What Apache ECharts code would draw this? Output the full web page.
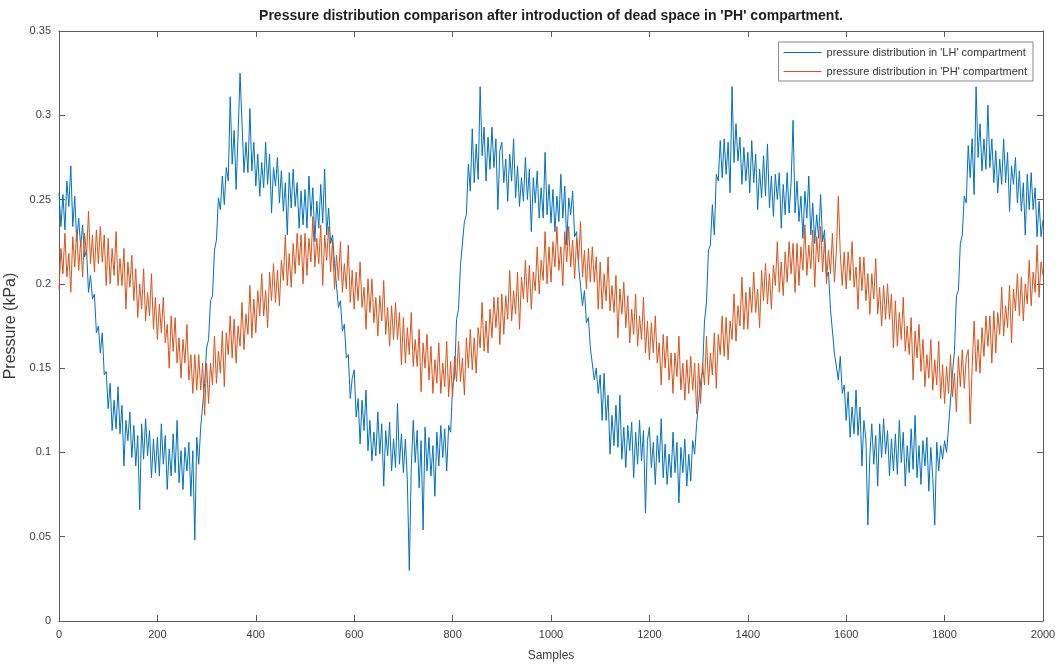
<!DOCTYPE html>
<html>
<head>
<meta charset="utf-8">
<script src="https://cdn.jsdelivr.net/npm/echarts@6/dist/echarts.min.js"></script>
<style>
  html, body { margin: 0; padding: 0; background: #ffffff; }
  #chart { width: 1062px; height: 671px; }
</style>
</head>
<body>
<div id="chart"></div>
<script>
// Pressure readings every 4 samples (kPa), samples 0..2000
const SAMPLE_STEP = 4;

const lhPressure = [
  0.254,0.234,0.253,0.232,0.261,0.246,0.27,0.234,0.252,0.225,0.239,0.222,0.235,0.216,0.22,0.195,0.205,0.191,0.194,0.171,0.175,0.159,0.171,0.146,0.148,
  0.126,0.141,0.113,0.131,0.114,0.139,0.111,0.128,0.092,0.119,0.107,0.124,0.097,0.116,0.092,0.11,0.066,0.117,0.096,0.12,0.098,0.113,0.085,0.108,0.088,
  0.109,0.086,0.117,0.093,0.11,0.078,0.102,0.086,0.111,0.088,0.119,0.082,0.101,0.078,0.103,0.089,0.106,0.074,0.101,0.048,0.109,0.093,0.115,0.116,0.141,
  0.162,0.167,0.19,0.193,0.22,0.226,0.251,0.244,0.264,0.247,0.269,0.261,0.311,0.271,0.291,0.256,0.289,0.325,0.295,0.266,0.284,0.266,0.304,0.267,0.284,
  0.258,0.277,0.252,0.272,0.257,0.284,0.259,0.277,0.242,0.269,0.258,0.275,0.248,0.267,0.243,0.26,0.229,0.266,0.245,0.268,0.246,0.26,0.233,0.255,0.235,
  0.256,0.233,0.264,0.24,0.257,0.225,0.249,0.233,0.259,0.236,0.268,0.229,0.245,0.224,0.229,0.212,0.211,0.186,0.19,0.172,0.176,0.156,0.158,0.132,0.144,
  0.149,0.121,0.132,0.105,0.131,0.113,0.137,0.101,0.119,0.095,0.112,0.098,0.124,0.099,0.117,0.08,0.113,0.098,0.118,0.089,0.108,0.091,0.129,0.093,0.111,
  0.088,0.108,0.084,0.03,0.091,0.119,0.094,0.113,0.079,0.107,0.054,0.115,0.089,0.109,0.086,0.104,0.074,0.112,0.092,0.116,0.097,0.114,0.089,0.116,0.112,
  0.139,0.145,0.179,0.185,0.211,0.21,0.237,0.241,0.271,0.255,0.292,0.26,0.283,0.262,0.317,0.276,0.293,0.261,0.287,0.268,0.293,0.269,0.286,0.244,0.279,
  0.284,0.26,0.274,0.249,0.277,0.261,0.286,0.251,0.27,0.246,0.263,0.249,0.275,0.25,0.268,0.231,0.263,0.248,0.267,0.239,0.257,0.239,0.278,0.241,0.259,
  0.236,0.256,0.231,0.252,0.237,0.265,0.239,0.258,0.223,0.251,0.241,0.255,0.228,0.231,0.211,0.212,0.187,0.196,0.177,0.18,0.162,0.163,0.143,0.15,0.135,
  0.146,0.119,0.147,0.119,0.134,0.099,0.122,0.104,0.128,0.103,0.134,0.096,0.115,0.091,0.116,0.101,0.118,0.085,0.112,0.093,0.119,0.095,0.113,0.064,0.107,
  0.115,0.091,0.106,0.081,0.11,0.094,0.12,0.085,0.105,0.081,0.099,0.085,0.112,0.088,0.106,0.07,0.103,0.088,0.108,0.08,0.099,0.083,0.107,0.099,0.117,
  0.116,0.142,0.148,0.178,0.189,0.22,0.223,0.247,0.229,0.265,0.261,0.285,0.263,0.286,0.265,0.284,0.254,0.317,0.272,0.295,0.273,0.287,0.259,0.281,0.261,
  0.278,0.254,0.285,0.26,0.277,0.244,0.268,0.251,0.276,0.252,0.283,0.245,0.264,0.24,0.265,0.25,0.266,0.233,0.259,0.241,0.266,0.242,0.26,0.297,0.242,
  0.261,0.237,0.252,0.227,0.255,0.239,0.264,0.229,0.248,0.224,0.241,0.227,0.253,0.225,0.232,0.204,0.207,0.185,0.184,0.159,0.16,0.143,0.157,0.135,0.14,
  0.119,0.136,0.109,0.127,0.111,0.137,0.11,0.127,0.092,0.119,0.108,0.057,0.098,0.117,0.093,0.11,0.08,0.117,0.097,0.12,0.099,0.113,0.086,0.108,0.089,
  0.111,0.087,0.119,0.094,0.112,0.08,0.104,0.088,0.114,0.09,0.122,0.085,0.104,0.081,0.107,0.092,0.109,0.077,0.103,0.085,0.057,0.106,0.089,0.104,0.096,
  0.107,0.1,0.115,0.116,0.147,0.16,0.193,0.196,0.224,0.229,0.252,0.248,0.282,0.263,0.286,0.253,0.317,0.275,0.295,0.267,0.286,0.268,0.306,0.269,0.286,
  0.26,0.279,0.254,0.274,0.259,0.286,0.26,0.278,0.243,0.27,0.259,0.275,0.248,0.267,0.243,0.26,0.229,0.265,0.244,0.266,0.244,0.257,0.228,0.249,0.228,
  0.238
];

const phPressure = [
  0.197,0.221,0.206,0.23,0.204,0.218,0.195,0.228,0.21,0.232,0.208,0.226,0.204,0.23,0.217,0.243,0.212,0.229,0.207,0.232,0.212,0.234,0.213,0.229,0.199,
  0.227,0.2,0.221,0.205,0.231,0.199,0.215,0.199,0.221,0.185,0.213,0.198,0.217,0.19,0.209,0.18,0.2,0.185,0.209,0.178,0.195,0.181,0.206,0.173,0.192,
  0.167,0.188,0.171,0.192,0.165,0.176,0.15,0.181,0.16,0.18,0.153,0.168,0.144,0.167,0.153,0.176,0.143,0.158,0.135,0.158,0.137,0.158,0.137,0.153,0.122,
  0.153,0.129,0.153,0.14,0.169,0.141,0.16,0.147,0.172,0.139,0.171,0.158,0.181,0.156,0.179,0.153,0.175,0.163,0.189,0.161,0.182,0.17,0.199,0.168,0.191,
  0.171,0.196,0.181,0.206,0.181,0.196,0.174,0.207,0.19,0.212,0.189,0.208,0.187,0.214,0.202,0.229,0.199,0.218,0.198,0.224,0.206,0.23,0.211,0.229,0.2,
  0.23,0.205,0.227,0.213,0.24,0.21,0.227,0.212,0.235,0.199,0.229,0.214,0.234,0.207,0.226,0.197,0.217,0.202,0.225,0.195,0.212,0.197,0.223,0.189,0.208,
  0.185,0.207,0.19,0.213,0.186,0.198,0.173,0.203,0.183,0.203,0.177,0.192,0.169,0.193,0.178,0.202,0.17,0.186,0.163,0.187,0.167,0.189,0.167,0.183,0.152,
  0.18,0.153,0.174,0.158,0.183,0.151,0.167,0.151,0.173,0.136,0.165,0.15,0.17,0.143,0.163,0.135,0.155,0.141,0.165,0.135,0.153,0.139,0.166,0.133,0.154,
  0.133,0.157,0.142,0.166,0.142,0.156,0.134,0.168,0.15,0.173,0.149,0.168,0.147,0.174,0.162,0.189,0.16,0.178,0.159,0.185,0.168,0.192,0.174,0.192,0.164,
  0.194,0.17,0.193,0.179,0.208,0.178,0.196,0.182,0.207,0.173,0.204,0.191,0.214,0.189,0.211,0.185,0.207,0.196,0.222,0.194,0.214,0.202,0.231,0.2,0.222,
  0.201,0.225,0.21,0.234,0.208,0.222,0.199,0.231,0.213,0.234,0.21,0.226,0.203,0.227,0.213,0.237,0.204,0.22,0.197,0.221,0.201,0.222,0.201,0.216,0.185,
  0.213,0.185,0.206,0.19,0.216,0.184,0.199,0.183,0.205,0.168,0.197,0.182,0.201,0.174,0.193,0.165,0.185,0.17,0.194,0.163,0.181,0.167,0.192,0.159,0.178,
  0.155,0.177,0.159,0.181,0.153,0.165,0.14,0.17,0.15,0.169,0.143,0.159,0.135,0.159,0.145,0.169,0.137,0.153,0.131,0.155,0.135,0.157,0.137,0.153,0.123,
  0.153,0.129,0.153,0.14,0.169,0.14,0.159,0.146,0.171,0.138,0.17,0.158,0.181,0.157,0.18,0.155,0.178,0.167,0.194,0.166,0.187,0.175,0.204,0.173,0.195,
  0.173,0.198,0.183,0.207,0.183,0.197,0.174,0.208,0.19,0.212,0.188,0.206,0.185,0.211,0.199,0.225,0.195,0.213,0.193,0.219,0.201,0.225,0.206,0.224,0.195,
  0.224,0.199,0.222,0.208,0.235,0.205,0.223,0.209,0.232,0.198,0.228,0.213,0.234,0.207,0.227,0.2,0.22,0.206,0.23,0.201,0.219,0.252,0.218,0.199,0.219,
  0.197,0.219,0.202,0.225,0.198,0.21,0.185,0.216,0.196,0.216,0.19,0.206,0.182,0.206,0.191,0.215,0.182,0.198,0.175,0.199,0.179,0.2,0.179,0.194,0.162,
  0.19,0.163,0.183,0.167,0.192,0.16,0.175,0.158,0.18,0.143,0.172,0.156,0.176,0.148,0.167,0.139,0.158,0.144,0.167,0.137,0.155,0.14,0.166,0.132,0.152,
  0.129,0.151,0.135,0.158,0.133,0.147,0.124,0.157,0.139,0.161,0.138,0.156,0.161,0.117,0.151,0.178,0.148,0.167,0.147,0.174,0.157,0.181,0.163,0.181,0.153,
  0.184,0.159,0.183,0.17,0.198,0.169,0.187,0.174,0.199,0.165,0.197,0.184,0.206,0.181,0.204,0.178,0.2,0.188,0.214,0.187,0.207,0.195,0.223,0.192,0.213,
  0.205
];

const seriesNames = [
  "pressure distribution in 'LH' compartment",
  "pressure distribution in 'PH' compartment"
];
const chartTitle = "Pressure distribution comparison after introduction of dead space in 'PH' compartment.";
const xAxisTitle = 'Samples';
const yAxisTitle = 'Pressure (kPa)';

const toPoints = (values) => values.map((v, i) => [i * SAMPLE_STEP, v]);

const FONT = "'Liberation Sans', Arial, Helvetica, sans-serif";
const AXIS_COLOR = '#5c5c5c';
const LABEL_COLOR = '#3a3a3a';

// MATLAB-style box: axis lines on all four sides, ticks pointing inward
const boxAxis = () => ({
  axisLine: { show: true, onZero: false, lineStyle: { color: AXIS_COLOR, width: 1 } },
  axisTick: { show: true, inside: true, length: 6, lineStyle: { color: AXIS_COLOR } },
  splitLine: { show: false }
});

const chart = echarts.init(document.getElementById('chart'), null, { renderer: 'canvas' });

chart.setOption({
  animation: false,
  backgroundColor: '#ffffff',
  title: {
    text: chartTitle,
    left: 546,
    textAlign: 'center',
    top: 4,
    textStyle: { fontFamily: FONT, fontSize: 14, fontWeight: 'bold', color: '#1e1e1e' }
  },
  legend: {
    orient: 'vertical',
    right: 29,
    top: 42,
    icon: 'rect',
    itemWidth: 38,
    itemHeight: 1,
    itemGap: 8,
    padding: [5, 6, 4, 5],
    backgroundColor: '#ffffff',
    borderColor: '#8a8a8a',
    borderWidth: 1,
    borderRadius: 0,
    textStyle: { fontFamily: FONT, fontSize: 11, color: '#333' },
    data: seriesNames
  },
  grid: { left: 59, right: 19, top: 31, bottom: 50, containLabel: false, outerBoundsMode: 'none' },
  xAxis: [
    Object.assign(boxAxis(), {
      type: 'value', min: 0, max: 2000, interval: 200, position: 'bottom',
      name: xAxisTitle, nameLocation: 'middle', nameGap: 29,
      nameTextStyle: { fontFamily: FONT, fontSize: 12, color: LABEL_COLOR },
      axisLabel: { fontFamily: FONT, fontSize: 11, color: LABEL_COLOR, margin: 8, formatter: (v) => String(v) }
    }),
    Object.assign(boxAxis(), {
      type: 'value', min: 0, max: 2000, interval: 200, position: 'top',
      axisLabel: { show: false }
    })
  ],
  yAxis: [
    Object.assign(boxAxis(), {
      type: 'value', min: 0, max: 0.35, interval: 0.05, position: 'left',
      name: yAxisTitle, nameLocation: 'middle', nameGap: 34, nameRotate: 90,
      nameTextStyle: { fontFamily: FONT, fontSize: 16, color: LABEL_COLOR },
      axisLabel: { fontFamily: FONT, fontSize: 11, color: LABEL_COLOR, margin: 8, formatter: (v) => String(+v.toFixed(2)) }
    }),
    Object.assign(boxAxis(), {
      type: 'value', min: 0, max: 0.35, interval: 0.05, position: 'right',
      axisLabel: { show: false }
    })
  ],
  series: [
    {
      name: seriesNames[0], type: 'line', data: toPoints(lhPressure),
      xAxisIndex: 0, yAxisIndex: 0,
      showSymbol: false, symbol: 'none', sampling: null,
      lineStyle: { color: '#0072BD', width: 1 }, itemStyle: { color: '#0072BD' }
    },
    {
      name: seriesNames[1], type: 'line', data: toPoints(phPressure),
      xAxisIndex: 0, yAxisIndex: 0,
      showSymbol: false, symbol: 'none', sampling: null,
      lineStyle: { color: '#D95319', width: 1 }, itemStyle: { color: '#D95319' }
    }
  ]
});
</script>
</body>
</html>
